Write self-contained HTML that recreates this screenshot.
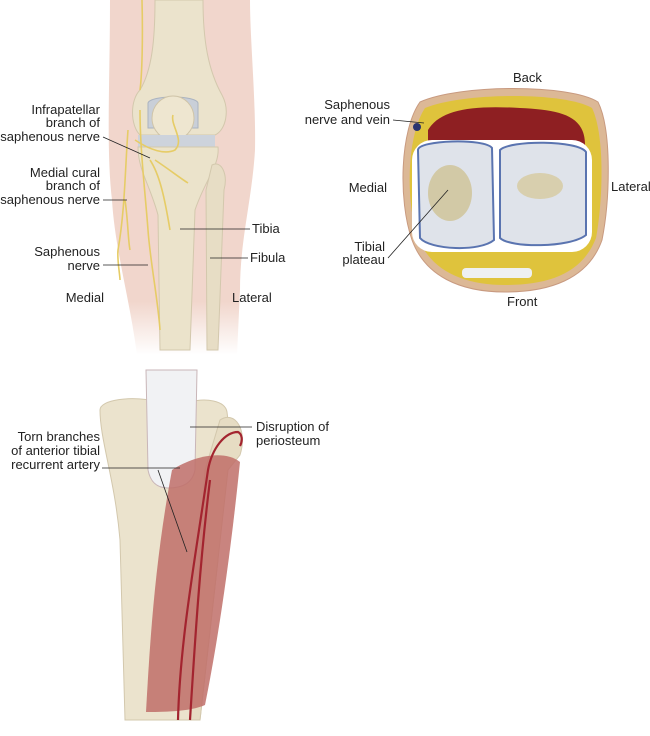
<!DOCTYPE html>
<html><head><style>
body{margin:0;background:#fff;width:650px;height:736px;overflow:hidden}
svg{display:block}
text{font-family:"Liberation Sans",sans-serif;font-size:13px;fill:#222}
</style></head><body>
<svg width="650" height="736" viewBox="0 0 650 736">
<defs>
<linearGradient id="skin" x1="0" y1="0" x2="0" y2="1"><stop offset="0.85" stop-color="#f1d6cc"/><stop offset="1" stop-color="#fff"/></linearGradient>
</defs>
<!-- TOP LEFT leg -->
<path d="M110 0 L250 0 C250 40 256 100 255 150 C252 200 240 240 240 290 L237 355 L137 355 C130 300 115 250 112 200 C106 150 110 80 110 0Z" fill="url(#skin)"/>
<path d="M155 0 L203 0 C203 40 208 70 222 95 C230 110 226 130 215 135 L140 135 C130 125 130 100 140 90 C152 70 155 40 155 0Z" fill="#ebe3cc" stroke="#d3c8ad"/>
<path d="M148 103 C150 95 196 95 198 103 L198 128 L148 128Z" fill="#c9cfd8" stroke="#aab3c0"/>
<ellipse cx="173" cy="118" rx="21" ry="22" fill="#eee6d0" stroke="#cfc4a8"/>
<path d="M138 135 L215 135 L215 147 L138 147Z" fill="#cdd3dc"/>
<path d="M138 147 L218 147 C220 165 205 180 195 210 L190 350 L160 350 L158 215 C150 185 138 170 138 147Z" fill="#ebe3cb" stroke="#d3c8ad"/>
<path d="M212 165 C222 160 228 175 224 190 L218 350 L207 350 L206 190Z" fill="#e7ddc5" stroke="#d3c8ad"/>
<g stroke="#e6cc66" stroke-width="1.6" fill="none">
<path d="M142 0 C143 40 142 75 140 90"/>
<path d="M128 130 C125 170 125 210 118 250 C117 260 120 275 120 280"/>
<path d="M125 200 C128 220 128 240 130 250"/>
<path d="M140 110 C140 150 145 190 148 230 C150 260 158 300 160 330"/>
<path d="M135 140 C150 150 165 155 175 150 C185 140 170 125 173 115"/>
<path d="M150 160 C160 175 165 200 170 230"/>
<path d="M155 160 C170 170 180 178 188 183"/>
</g>
<g stroke="#222" stroke-width="0.8">
<line x1="103" y1="137" x2="150" y2="158"/>
<line x1="103" y1="200" x2="127" y2="200"/>
<line x1="180" y1="229" x2="250" y2="229"/>
<line x1="210" y1="258" x2="248" y2="258"/>
<line x1="103" y1="265" x2="148" y2="265"/>
</g>
<g text-anchor="end">
<text x="100" y="114">Infrapatellar</text><text x="100" y="127">branch of</text><text x="100" y="141">saphenous nerve</text>
<text x="100" y="177">Medial cural</text><text x="100" y="190">branch of</text><text x="100" y="204">saphenous nerve</text>
<text x="100" y="256">Saphenous</text><text x="100" y="270">nerve</text>
<text x="104" y="302">Medial</text>
</g>
<text x="252" y="233">Tibia</text><text x="250" y="262">Fibula</text><text x="232" y="302">Lateral</text>

<!-- TOP RIGHT cross-section -->
<path d="M420 102 C460 84 570 84 598 102 C612 130 610 200 602 240 C588 280 548 292 505 292 C460 292 425 276 412 240 C398 200 400 130 420 102Z" fill="#dcb896" stroke="#c89a80"/>
<path d="M425 108 C465 92 565 92 592 108 C605 135 603 200 596 238 C582 274 548 285 505 285 C465 285 432 272 418 238 C405 200 407 135 425 108Z" fill="#dfc33c"/>
<path d="M428 130 C440 110 470 105 520 108 C560 110 585 115 585 145 L585 150 C560 140 480 140 428 145Z" fill="#8e1f22"/>
<rect x="412" y="140" width="180" height="112" rx="20" fill="#fff"/>
<path d="M418 150 C418 140 485 138 492 148 L494 240 C480 252 430 250 420 238Z" fill="#dfe3ea" stroke="#5a74b0" stroke-width="2"/>
<path d="M500 150 C510 140 578 140 586 152 L586 235 C570 248 510 248 500 238Z" fill="#dfe3ea" stroke="#5a74b0" stroke-width="2"/>
<ellipse cx="450" cy="193" rx="22" ry="28" fill="#d2c9a6"/>
<ellipse cx="540" cy="186" rx="23" ry="13" fill="#d8cfae"/>
<rect x="462" y="268" width="70" height="10" rx="4" fill="#eef0f2"/>
<circle cx="417" cy="127" r="4" fill="#2a3270"/>
<g stroke="#222" stroke-width="0.8">
<line x1="393" y1="120" x2="424" y2="123"/>
<line x1="388" y1="258" x2="448" y2="190"/>
</g>
<text x="513" y="82">Back</text><text x="507" y="306">Front</text>
<text x="611" y="191">Lateral</text>
<g text-anchor="end">
<text x="390" y="109">Saphenous</text><text x="390" y="124">nerve and vein</text>
<text x="387" y="192">Medial</text>
<text x="385" y="251">Tibial</text><text x="385" y="264">plateau</text>
</g>

<!-- BOTTOM tibia -->
<path d="M100 410 C100 400 130 395 160 402 L190 402 C205 398 225 400 227 412 C230 430 222 445 220 460 L218 560 L200 720 L125 720 L120 540 C115 480 100 440 100 410Z" fill="#ebe3cd" stroke="#d3c8ad"/>
<path d="M146 370 L197 370 L195 470 C192 485 180 488 168 488 C155 488 150 480 148 470Z" fill="#f1f2f4" stroke="#c9b6b8"/>
<path d="M220 420 C235 410 248 430 240 455 L228 470 L200 720 L190 720 L205 470Z" fill="#e6dcc3" stroke="#d3c8ad"/>
<path d="M172 470 C195 455 225 450 240 462 C230 560 218 640 205 705 C190 712 160 712 146 712 C150 640 155 560 172 470Z" fill="#c06e68" opacity="0.85"/>
<g stroke="#a3242f" stroke-width="2.2" fill="none">
<path d="M178 720 C180 640 195 560 208 470 C212 448 225 432 238 432 C242 434 243 440 240 446"/>
<path d="M190 720 C195 640 200 560 210 480"/>
</g>
<g stroke="#222" stroke-width="0.8">
<line x1="102" y1="468" x2="180" y2="468"/>
<line x1="158" y1="470" x2="187" y2="552"/>
<line x1="252" y1="427" x2="190" y2="427"/>
</g>
<g text-anchor="end">
<text x="100" y="441">Torn branches</text><text x="100" y="455">of anterior tibial</text><text x="100" y="469">recurrent artery</text>
</g>
<text x="256" y="431">Disruption of</text><text x="256" y="445">periosteum</text>
</svg>
</body></html>
